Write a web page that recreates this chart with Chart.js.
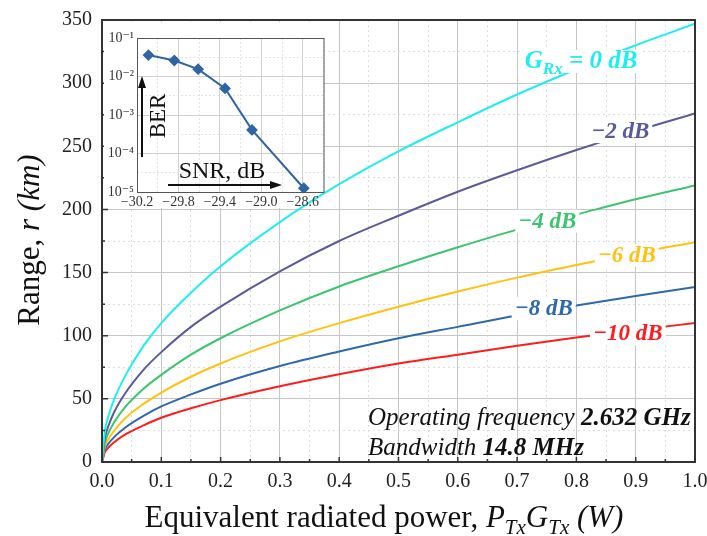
<!DOCTYPE html>
<html>
<head>
<meta charset="utf-8">
<script src="https://cdn.jsdelivr.net/npm/chart.js@4"></script>
<style>
  html, body { margin: 0; padding: 0; background: #fff; }
  #wrap { position: relative; width: 707px; height: 536px; }
  #main { position: absolute; left: 0; top: 0; }
  #inset { position: absolute; left: 104px; top: 22px; }
</style>
</head>
<body>
<div id="wrap">
  <canvas id="main" width="707" height="536"></canvas>
  <canvas id="inset" width="226" height="186"></canvas>
</div>
<script>
'use strict';

// main chart: range vs ERP, one curve per receiver gain
const power = [0, 0.005, 0.01, 0.02, 0.04, 0.07, 0.1, 0.15, 0.2, 0.3, 0.4, 0.5, 0.6, 0.7, 0.8, 0.9, 1.0];
const range0dB  = [0, 25, 35, 49, 69, 92, 110, 134, 155, 190, 220, 246, 269, 291, 311, 330, 347];
const range2dB  = [0, 19.5, 27.5, 39, 55, 73, 87, 107, 123, 151, 175, 195, 214, 231, 247, 262, 276];
const range4dB  = [0, 15.5, 22, 31, 44, 58, 69, 85, 98, 120, 139, 155, 170, 184, 196, 208, 219];
const range6dB  = [0, 12.5, 17.5, 24.5, 35, 46, 55, 67.5, 78, 95.5, 110, 123, 135, 146, 156, 165.5, 174];
const range8dB  = [0, 10, 14, 19.5, 27.5, 36.5, 44, 53.5, 62, 76, 87.5, 98, 107, 116, 124, 131.5, 138.5];
const range10dB = [0, 8, 11, 15.5, 22, 29, 35, 42.5, 49, 60, 69.5, 78, 85, 92, 98.5, 104.5, 110];
const gainLabels = ['0 dB', '−2 dB', '−4 dB', '−6 dB', '−8 dB', '−10 dB'];
const xTicks = [0, 0.05, 0.1, 0.15, 0.2, 0.25, 0.3, 0.35, 0.4, 0.45, 0.5, 0.55, 0.6, 0.65, 0.7, 0.75, 0.8, 0.85, 0.9, 0.95, 1.0];
const yTicks = [0, 25, 50, 75, 100, 125, 150, 175, 200, 225, 250, 275, 300, 325, 350];

// inset: BER vs SNR
const snr = [-30.09, -29.84, -29.61, -29.35, -29.09, -28.59];
const ber = [0.036, 0.026, 0.0155, 0.0049, 0.00041, 0.0000125];
const snrTicks = [-30.2, -30.0, -29.8, -29.6, -29.4, -29.2, -29.0, -28.8, -28.6, -28.4];
const berTicks = [1e-5, 3.16e-5, 1e-4, 3.16e-4, 1e-3, 3.16e-3, 1e-2, 3.16e-2, 1e-1];

const F = "'Liberation Serif', 'DejaVu Serif', serif";
const colors = ['#1eeef2', '#5a5a9c', '#3cc46e', '#ffc210', '#2f69ab', '#ff1c1c'];

// label placement (x value, baseline y value) + text pieces
const curveLabels = [
  { x: 0.713, y: 312, segs: [
      { t: 'G', font: 'italic bold 25px ' + F },
      { t: 'Rx', font: 'italic bold 17px ' + F, dy: 6 },
      { t: ' = 0 dB', font: 'italic bold 25px ' + F }] },
  { x: 0.825, y: 256.5 },
  { x: 0.702, y: 185.5 },
  { x: 0.836, y: 158.5 },
  { x: 0.696, y: 116.5 },
  { x: 0.828, y: 96.5 }
];

function richWidth(ctx, segs){
  let w = 0;
  segs.forEach(s => { ctx.font = s.font; w += ctx.measureText(s.t).width; });
  return w;
}
function drawRich(ctx, segs, x, y){
  segs.forEach(s => {
    ctx.font = s.font;
    ctx.fillText(s.t, x, y + (s.dy || 0));
    x += ctx.measureText(s.t).width;
  });
}
function isMult(v, step){
  const r = v / step;
  return Math.abs(r - Math.round(r)) < 1e-6;
}

const mainPlugin = {
  id: 'mainDeco',
  afterDatasetsDraw(chart){
    const ctx = chart.ctx;
    const xs = chart.scales.x, ys = chart.scales.y;
    ctx.save();
    ctx.textBaseline = 'alphabetic';
    curveLabels.forEach((lb, i) => {
      const segs = lb.segs || [{ t: gainLabels[i], font: 'italic bold 23px ' + F }];
      const px = xs.getPixelForValue(lb.x);
      const py = ys.getPixelForValue(lb.y);
      const w = richWidth(ctx, segs);
      ctx.fillStyle = '#fff';
      ctx.fillRect(px - 3, py - 18, w + 6, 23);
      ctx.fillStyle = colors[i];
      drawRich(ctx, segs, px, py);
    });

    // operating notes
    ctx.fillStyle = '#111';
    const nx = xs.getPixelForValue(0.4486);
    drawRich(ctx, [
      { t: 'Operating frequency ', font: 'italic 25px ' + F },
      { t: '2.632 GHz', font: 'italic bold 25px ' + F }], nx, ys.getPixelForValue(29.3));
    drawRich(ctx, [
      { t: 'Bandwidth ', font: 'italic 25px ' + F },
      { t: '14.8 MHz', font: 'italic bold 25px ' + F }], nx, ys.getPixelForValue(5.5));
    ctx.restore();
  },
  afterDraw(chart){
    const ctx = chart.ctx;
    const a = chart.chartArea;
    const xs = chart.scales.x, ys = chart.scales.y;
    ctx.save();
    ctx.strokeStyle = '#333';
    ctx.lineWidth = 2;
    ctx.strokeRect(a.left, a.top, a.right - a.left, a.bottom - a.top);
    // inward ticks
    ctx.lineWidth = 1.5;
    ctx.beginPath();
    xTicks.forEach(v => {
      const p = xs.getPixelForValue(v);
      const len = isMult(v, 0.1) ? 5 : 3;
      ctx.moveTo(p, a.bottom); ctx.lineTo(p, a.bottom - len);
    });
    yTicks.forEach(v => {
      const p = ys.getPixelForValue(v);
      const len = isMult(v, 50) ? 6 : 3;
      ctx.moveTo(a.left, p); ctx.lineTo(a.left + len, p);
    });
    ctx.stroke();

    // axis titles
    ctx.fillStyle = '#111';
    const xt = [
      { t: 'Equivalent radiated power, ', font: '31px ' + F },
      { t: 'P', font: 'italic 31px ' + F },
      { t: 'Tx', font: 'italic 21px ' + F, dy: 7 },
      { t: 'G', font: 'italic 31px ' + F },
      { t: 'Tx', font: 'italic 21px ' + F, dy: 7 },
      { t: ' (W)', font: 'italic 31px ' + F }];
    const wx = richWidth(ctx, xt);
    drawRich(ctx, xt, 384 - wx / 2, 527);

    const yt = [
      { t: 'Range, ', font: '31px ' + F },
      { t: 'r (km)', font: 'italic 31px ' + F }];
    const wy = richWidth(ctx, yt);
    ctx.translate(39, 240);
    ctx.rotate(-Math.PI / 2);
    drawRich(ctx, yt, -wy / 2, 0);
    ctx.restore();
  }
};

function gridColor(c){
  return c.tick && c.tick.major === false ? '#dedede' : '#c6c6c6';
}

const series = [range0dB, range2dB, range4dB, range6dB, range8dB, range10dB];

new Chart(document.getElementById('main'), {
  type: 'line',
  data: {
    datasets: series.map((s, i) => ({
      label: gainLabels[i],
      data: power.map((p, j) => ({ x: p, y: s[j] })),
      borderColor: colors[i],
      borderWidth: 2,
      pointRadius: 0,
      cubicInterpolationMode: 'monotone',
      fill: false
    }))
  },
  options: {
    responsive: false,
    animation: false,
    layout: { padding: { top: 20, right: 12, left: 0, bottom: 0 } },
    plugins: { legend: { display: false }, tooltip: { enabled: false } },
    scales: {
      x: {
        type: 'linear', min: 0, max: 1,
        afterBuildTicks: s => { s.ticks = xTicks.map(v => ({ value: v, major: isMult(v, 0.1) })); },
        afterFit: s => { s.height = 74; s.paddingLeft = 0; s.paddingRight = 0; },
        ticks: {
          autoSkip: false, maxRotation: 0, padding: 8, color: '#222',
          font: { family: F, size: 20 },
          callback: v => isMult(v, 0.1) ? v.toFixed(1) : ''
        },
        grid: { color: gridColor, lineWidth: 1, drawTicks: false },
        border: { display: true, color: '#333', width: 2,
          dash: c => (c.tick && c.tick.major === false) ? [2, 3] : [] }
      },
      y: {
        type: 'linear', min: 0, max: 350,
        afterBuildTicks: s => { s.ticks = yTicks.map(v => ({ value: v, major: isMult(v, 50) })); },
        afterFit: s => { s.width = 102; s.paddingTop = 0; s.paddingBottom = 0; },
        ticks: {
          autoSkip: false, padding: 10, color: '#222',
          font: { family: F, size: 20 },
          callback: v => isMult(v, 50) ? String(v) : ''
        },
        grid: { color: gridColor, lineWidth: 1, drawTicks: false },
        border: { display: true, color: '#333', width: 2,
          dash: c => (c.tick && c.tick.major === false) ? [2, 3] : [] }
      }
    }
  },
  plugins: [mainPlugin]
});

// ---- inset ----
const SUP = { '-': '⁻', '0': '⁰', '1': '¹', '2': '²', '3': '³', '4': '⁴', '5': '⁵', '6': '⁶', '7': '⁷', '8': '⁸', '9': '⁹' };
function isDecade(v){
  const l = Math.log10(v);
  return Math.abs(l - Math.round(l)) < 1e-3;
}

const insetPlugin = {
  id: 'insetDeco',
  beforeDraw(chart){
    const ctx = chart.ctx;
    const a = chart.chartArea;
    ctx.save();
    ctx.fillStyle = '#fff';
    ctx.fillRect(0, 0, a.right + 1, a.bottom + 1);
    ctx.fillRect(0, a.bottom, a.right - 32, chart.height - a.bottom);
    ctx.restore();
  },
  afterDraw(chart){
    const ctx = chart.ctx;
    const a = chart.chartArea;
    ctx.save();
    ctx.strokeStyle = '#555';
    ctx.lineWidth = 1;
    ctx.strokeRect(a.left + 0.5, a.top + 0.5, a.right - a.left, a.bottom - a.top);

    // arrows
    ctx.strokeStyle = '#111';
    ctx.fillStyle = '#111';
    ctx.lineWidth = 2;
    const ax = a.left + 5;
    ctx.beginPath(); ctx.moveTo(ax, a.top + 119); ctx.lineTo(ax, a.top + 46); ctx.stroke();
    ctx.beginPath(); ctx.moveTo(ax, a.top + 38); ctx.lineTo(ax - 4, a.top + 50); ctx.lineTo(ax + 4, a.top + 50); ctx.fill();
    const ay = a.bottom - 7;
    ctx.beginPath(); ctx.moveTo(a.left + 31, ay); ctx.lineTo(a.left + 137, ay); ctx.stroke();
    ctx.beginPath(); ctx.moveTo(a.left + 145, ay); ctx.lineTo(a.left + 133, ay - 4); ctx.lineTo(a.left + 133, ay + 4); ctx.fill();

    ctx.font = '24px ' + F;
    ctx.textAlign = 'center';
    ctx.textBaseline = 'alphabetic';
    ctx.fillText('SNR, dB', a.left + 85, a.bottom - 14);
    ctx.font = '23px ' + F;
    ctx.translate(a.left + 28, a.top + 78);
    ctx.rotate(-Math.PI / 2);
    ctx.fillText('BER', 0, 0);
    ctx.restore();
  }
};

new Chart(document.getElementById('inset'), {
  type: 'line',
  data: {
    datasets: [{
      label: 'BER',
      data: snr.map((s, i) => ({ x: s, y: ber[i] })),
      borderColor: '#2f65a6',
      backgroundColor: '#2f65a6',
      borderWidth: 2,
      pointStyle: 'rectRot',
      pointRadius: 4.5,
      tension: 0
    }]
  },
  options: {
    responsive: false,
    animation: false,
    layout: { padding: { top: 16, right: 4, left: 0, bottom: 0 } },
    plugins: { legend: { display: false }, tooltip: { enabled: false } },
    scales: {
      x: {
        type: 'linear', min: -30.2, max: -28.4,
        afterBuildTicks: s => { s.ticks = snrTicks.map((v, i) => ({ value: v, major: i % 2 === 0 })); },
        afterFit: s => { s.height = 16; s.paddingLeft = 0; s.paddingRight = 0; },
        ticks: {
          autoSkip: false, maxRotation: 0, padding: 2, color: '#333',
          font: { family: F, size: 14 },
          callback: (v, i) => (i % 2 === 0 && i < 9) ? '−' + Math.abs(v).toFixed(1) : ''
        },
        grid: { color: c => (c.tick && c.tick.major === false) ? '#e4e4e4' : '#d0d0d0', drawTicks: false },
        border: { display: false,
          dash: c => (c.tick && c.tick.major === false) ? [2, 2] : [] }
      },
      y: {
        type: 'logarithmic', min: 1e-5, max: 1e-1,
        afterBuildTicks: s => { s.ticks = berTicks.map(v => ({ value: v, major: isDecade(v) })); },
        afterFit: s => { s.width = 33; s.paddingTop = 0; s.paddingBottom = 0; },
        ticks: {
          autoSkip: false, padding: 3, color: '#333',
          font: { family: F, size: 14 },
          callback: v => {
            if (!isDecade(v)) return '';
            const e = String(Math.round(Math.log10(v)));
            return '10' + e.split('').map(ch => SUP[ch]).join('');
          }
        },
        grid: { color: c => (c.tick && c.tick.major === false) ? '#e4e4e4' : '#d0d0d0', drawTicks: false },
        border: { display: false,
          dash: c => (c.tick && c.tick.major === false) ? [2, 2] : [] }
      }
    }
  },
  plugins: [insetPlugin]
});
</script>
</body>
</html>
